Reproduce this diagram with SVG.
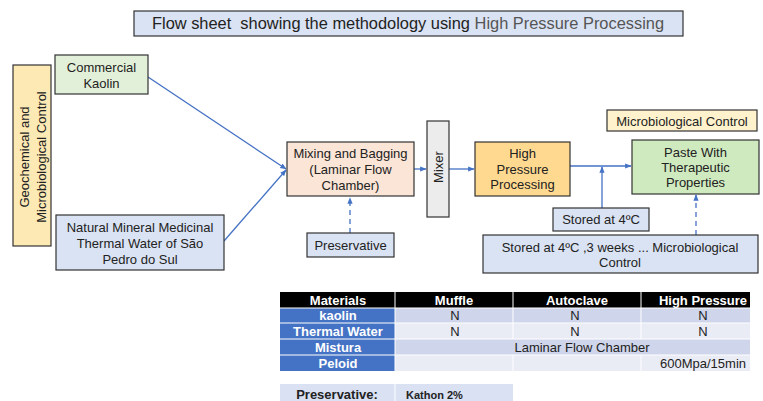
<svg xmlns="http://www.w3.org/2000/svg" width="763" height="401" viewBox="0 0 763 401">
  <style>
    text { font-family: "Liberation Sans", Arial, sans-serif; font-size: 13px; fill: #222; }
    .c { text-anchor: middle; }
    .box { stroke: #333; stroke-width: 1.2; }
    .blue { fill: #dae3f3; }
    .link { stroke: #4472c4; stroke-width: 1.3; fill: none; }
    .dash { stroke-dasharray: 5 4; }
    .th { fill: #fff; font-weight: bold; }
    .td { fill: #222; }
  </style>
  <defs>
    <marker id="arrow" viewBox="0 0 10 10" refX="9" refY="5" markerWidth="5" markerHeight="5" orient="auto-start-reverse">
      <path d="M0,1 L10,5 L0,9 z" fill="#4472c4"/>
    </marker>
  </defs>
  <rect width="763" height="401" fill="#fff"/>

  <!-- title -->
  <g id="title">
    <rect class="box blue" x="134" y="11" width="549" height="25"/>
    <text x="152" y="29" xml:space="preserve" style="font-size:16.4px;white-space:pre">Flow sheet  showing the methodology using <tspan fill="#555">High Pressure Processing</tspan></text>
  </g>

  <!-- connectors -->
  <g id="connectors">
    <line class="link" x1="148" y1="77" x2="286" y2="169" marker-end="url(#arrow)"/>
    <line class="link" x1="224" y1="241" x2="286" y2="170" marker-end="url(#arrow)"/>
    <line class="link dash" x1="350" y1="233" x2="350" y2="198" marker-end="url(#arrow)"/>
    <line class="link" x1="414" y1="169" x2="426" y2="169" marker-end="url(#arrow)"/>
    <line class="link" x1="449" y1="169" x2="474" y2="169" marker-end="url(#arrow)"/>
    <line class="link" x1="570" y1="166" x2="631" y2="166" marker-end="url(#arrow)"/>
    <line class="link" x1="602" y1="208" x2="602" y2="167" marker-end="url(#arrow)"/>
    <line class="link dash" x1="696" y1="235" x2="696" y2="195" marker-end="url(#arrow)"/>
  </g>

  <g id="geochemical">
    <rect class="box" x="13" y="65" width="38" height="181" fill="#fde9b4"/>
    <text class="c" transform="translate(29,157) rotate(-90)">Geochemical and</text>
    <text class="c" transform="translate(46,157) rotate(-90)">Microbiological Control</text>
  </g>

  <g id="kaolin">
    <rect class="box" x="55" y="55" width="93" height="39" fill="#e2efd9"/>
    <text class="c" x="101.5" y="72">Commercial</text>
    <text class="c" x="101.5" y="88">Kaolin</text>
  </g>

  <g id="water">
    <rect class="box blue" x="56" y="215" width="168" height="55"/>
    <text class="c" x="140" y="232">Natural Mineral Medicinal</text>
    <text class="c" x="140" y="248">Thermal Water of São</text>
    <text class="c" x="140" y="264">Pedro do Sul</text>
  </g>

  <g id="mixing">
    <rect class="box" x="287" y="142" width="127" height="54" fill="#fbe5d6"/>
    <text class="c" x="350.5" y="158">Mixing and Bagging</text>
    <text class="c" x="350.5" y="174">(Laminar Flow</text>
    <text class="c" x="350.5" y="190">Chamber)</text>
  </g>

  <g id="preservative">
    <rect class="box blue" x="307" y="233" width="87" height="24"/>
    <text class="c" x="350.5" y="249.5">Preservative</text>
  </g>

  <g id="mixer">
    <rect class="box" x="427" y="121" width="22" height="96" fill="#ececec"/>
    <text class="c" transform="translate(442.5,167) rotate(-90)">Mixer</text>
  </g>

  <g id="hpp">
    <rect class="box" x="475" y="142" width="95" height="54" fill="#ffd98f"/>
    <text class="c" x="522.5" y="158">High</text>
    <text class="c" x="522.5" y="174">Pressure</text>
    <text class="c" x="522.5" y="189">Processing</text>
  </g>

  <g id="micro-control">
    <rect class="box" x="607" y="110" width="150" height="21" fill="#fff2cc"/>
    <text class="c" x="682" y="125.5">Microbiological Control</text>
  </g>

  <g id="paste">
    <rect class="box" x="632" y="140" width="127" height="54" fill="#d0eac0"/>
    <text class="c" x="695.5" y="157">Paste With</text>
    <text class="c" x="695.5" y="172">Therapeutic</text>
    <text class="c" x="695.5" y="187">Properties</text>
  </g>

  <g id="stored">
    <rect class="box blue" x="553" y="208" width="96" height="23"/>
    <text class="c" x="601" y="224">Stored at 4ºC</text>
  </g>

  <g id="stored-weeks">
    <rect class="box blue" x="483" y="235" width="275" height="38"/>
    <text class="c" x="620" y="251.5">Stored at 4ºC ,3 weeks ... Microbiological</text>
    <text class="c" x="620" y="266.5">Control</text>
  </g>

  <!-- materials table -->
  <g id="table">
    <rect x="280" y="292" width="470" height="16" fill="#000"/>
    <rect x="280" y="308" width="115" height="63" fill="#4472c4"/>
    <rect x="395" y="308" width="355" height="15" fill="#cfd5ea"/>
    <rect x="395" y="323" width="355" height="16" fill="#e9ebf5"/>
    <rect x="395" y="339" width="355" height="16" fill="#cfd5ea"/>
    <rect x="395" y="355" width="355" height="16" fill="#e9ebf5"/>
    <g stroke="#fff" stroke-width="1">
      <line x1="280" y1="308" x2="750" y2="308"/>
      <line x1="280" y1="323" x2="750" y2="323"/>
      <line x1="280" y1="339" x2="750" y2="339"/>
      <line x1="280" y1="355" x2="750" y2="355"/>
      <line x1="395" y1="292" x2="395" y2="371"/>
      <line x1="513" y1="292" x2="513" y2="339"/>
      <line x1="641" y1="292" x2="641" y2="339"/>
      <line x1="513" y1="355" x2="513" y2="371"/>
      <line x1="641" y1="355" x2="641" y2="371"/>
    </g>
    <text class="c th" x="338" y="304.5">Materials</text>
    <text class="c th" x="454" y="304.5">Muffle</text>
    <text class="c th" x="577" y="304.5">Autoclave</text>
    <text class="c th" x="703" y="304.5">High Pressure</text>
    <text class="c th" x="338" y="320">kaolin</text>
    <text class="c th" x="338" y="335.5">Thermal Water</text>
    <text class="c th" x="338" y="351.5">Mistura</text>
    <text class="c th" x="338" y="367.5">Peloid</text>
    <text class="c td" x="455" y="320">N</text>
    <text class="c td" x="575" y="320">N</text>
    <text class="c td" x="703" y="320">N</text>
    <text class="c td" x="455" y="335.5">N</text>
    <text class="c td" x="575" y="335.5">N</text>
    <text class="c td" x="703" y="335.5">N</text>
    <text class="c td" x="582" y="351.5">Laminar Flow Chamber</text>
    <text class="c td" x="703" y="367.5">600Mpa/15min</text>

    <rect x="280" y="384" width="233" height="17" fill="#d9e1f2"/>
    <line x1="395" y1="384" x2="395" y2="401" stroke="#fff" stroke-width="1"/>
    <text class="c" x="337" y="399" style="font-weight:bold">Preservative:</text>
    <text x="406" y="398.5" style="font-weight:bold;font-size:11px">Kathon 2%</text>
  </g>
</svg>
